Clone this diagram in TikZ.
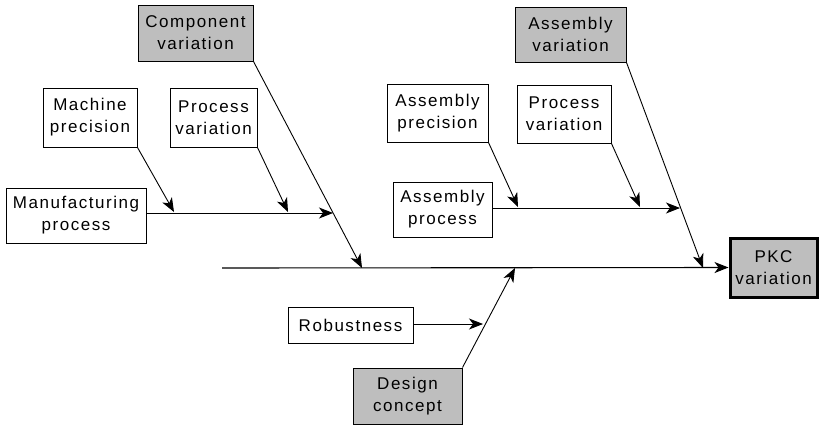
\documentclass[tikz,border=0pt]{standalone}
\usepackage{fontspec}
\setmainfont[LetterSpace=9]{Liberation Sans}
\usetikzlibrary{arrows.meta}
\definecolor{causegray}{RGB}{190,190,190}
\begin{document}
\begin{tikzpicture}[x=1pt,y=-1pt,
  box/.style={draw, line width=1pt, inner sep=0pt, align=center,
    font=\fontsize{17}{22}\selectfont},
  major/.style={box, fill=causegray},
  link/.style={line width=0.9pt, -{Stealth[length=14pt,width=11pt,inset=4pt]}},
  bone/.style={line width=1.1pt, -{Stealth[length=14pt,width=11pt,inset=4pt]}}]
\useasboundingbox (0,0) rectangle (821,426);

% cause boxes
\node[major, minimum width=115pt, minimum height=56pt] (comp) at (195.5,33) {Component\\variation};
\node[box, minimum width=87pt, minimum height=59pt] (procL) at (213.5,117.5) {Process\\variation};
\node[box, minimum width=94pt, minimum height=59pt] (mach) at (90,117.5) {Machine\\precision};
\node[box, minimum width=140pt, minimum height=55pt] (mfg) at (76,215.5) {Manufacturing\\process};
\node[major, minimum width=111pt, minimum height=55pt] (asmvar) at (570.5,34.5) {Assembly\\variation};
\node[box, minimum width=101pt, minimum height=58pt] (asmprec) at (437.5,113) {Assembly\\precision};
\node[box, minimum width=94pt, minimum height=58pt] (procR) at (564,114) {Process\\variation};
\node[box, minimum width=99pt, minimum height=55pt] (asmproc) at (442.5,209.5) {Assembly\\process};
\node[box, minimum width=125pt, minimum height=36pt] (robust) at (350.5,325) {Robustness};
\node[major, minimum width=109pt, minimum height=56pt] (design) at (407.5,396) {Design\\concept};

% effect
\node[major, line width=3pt, minimum width=87pt, minimum height=59pt] (pkc) at (773.5,267.5) {PKC\\variation};

% junction points on the bones
\coordinate (spineStart) at (222,268);
\coordinate (ribL) at (333,213);
\coordinate (ribR) at (680,208);
\coordinate (jComp) at (362,268);
\coordinate (jAsm) at (703,268);
\coordinate (jDesign) at (515,268);
\coordinate (jRob) at (483,324);
\coordinate (jMach) at (174,212);
\coordinate (jProcL) at (288,212);
\coordinate (jPrec) at (518,207);
\coordinate (jProcR) at (640,207);

% main spine
\draw[bone] (spineStart) -- (pkc.west);

% manufacturing branch
\draw[link] (mfg.east |- ribL) -- (ribL);
\draw[link] (mach.south east) -- (jMach);
\draw[link] (procL.south east) -- (jProcL);
\draw[link] (comp.south east) -- (jComp);

% assembly branch
\draw[link] (asmproc.east |- ribR) -- (ribR);
\draw[link] (asmprec.south east) -- (jPrec);
\draw[link] (procR.south east) -- (jProcR);
\draw[link] (asmvar.south east) -- (jAsm);

% design branch
\draw[link] (robust.east |- jRob) -- (jRob);
\draw[link] (design.north east) -- (jDesign);
\end{tikzpicture}
\end{document}
